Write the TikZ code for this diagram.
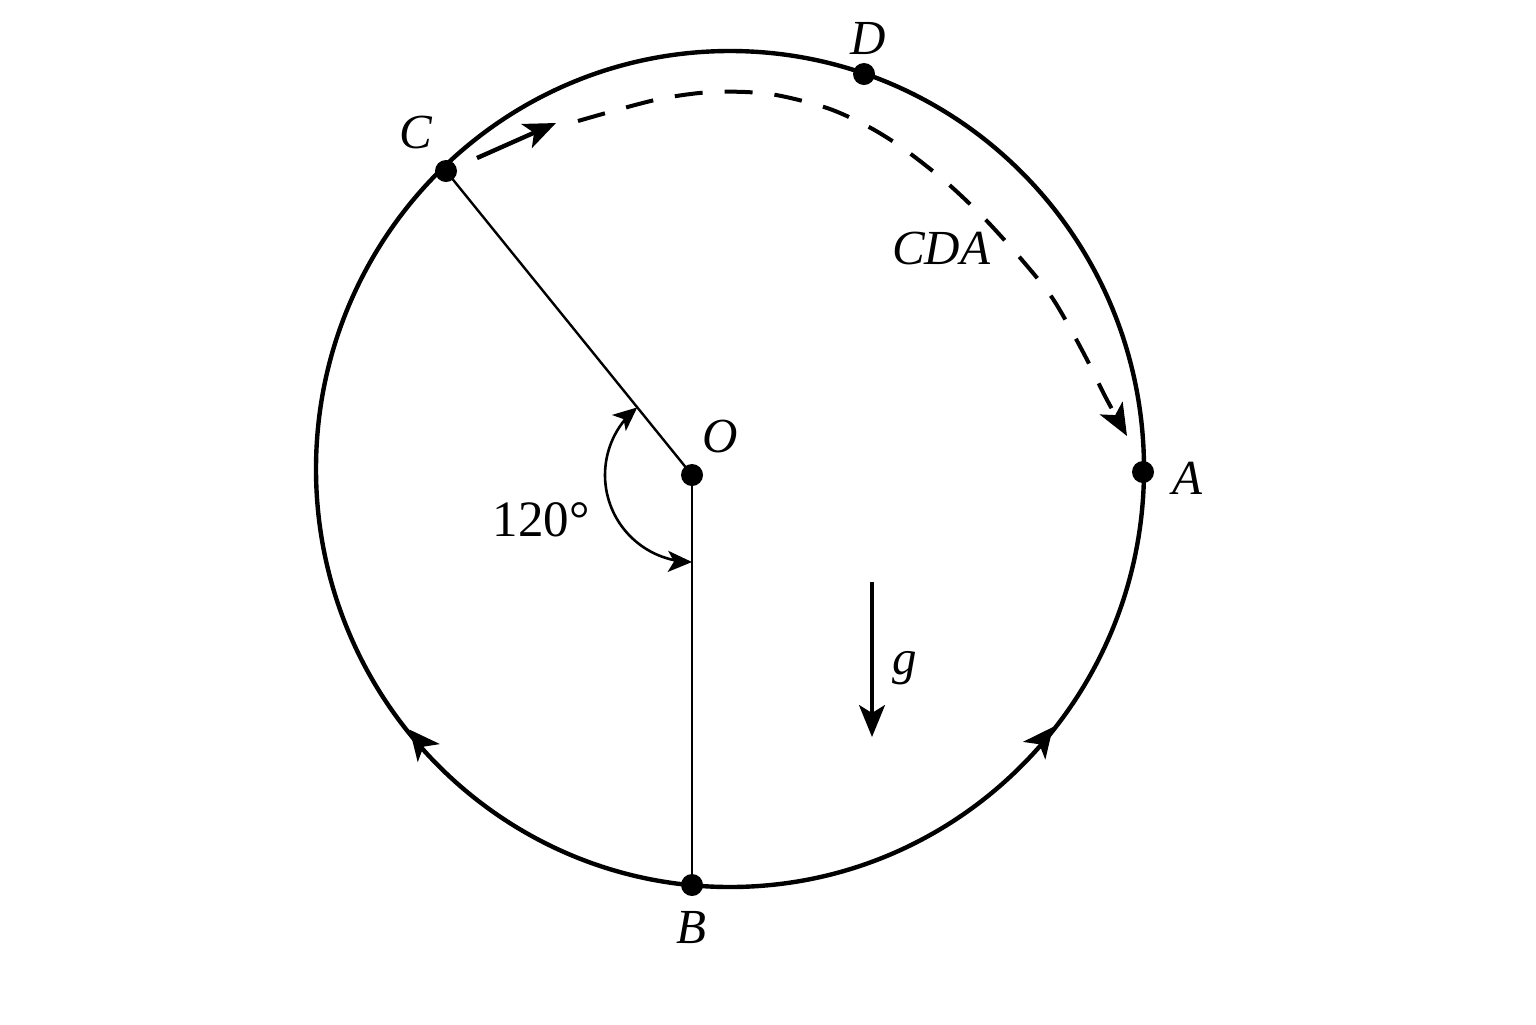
\documentclass[tikz,border=0pt]{standalone}
\usepackage{fontspec}
\setmainfont{Liberation Serif}
\usetikzlibrary{arrows.meta}
\begin{document}
\begin{tikzpicture}[x=0.5pt,y=-0.5pt,
  lbl/.style={font=\fontsize{24.5}{28}\selectfont\itshape, inner sep=0pt},
  numlbl/.style={font=\fontsize{25.5}{28}\selectfont, inner sep=0pt},
  dot/.style={circle, fill=black, minimum size=11pt, inner sep=0pt},
  rim/.style={line width=2.2pt},
  radiusline/.style={line width=1.2pt},
  bigtip/.style={-{Stealth[length=16pt,width=13pt,inset=4pt]}},
  midtip/.style={-{Stealth[length=15pt,width=14pt,inset=4pt]}},
  angtip/.style={{Stealth[length=12pt,width=10.5pt,inset=3pt]}-{Stealth[length=12pt,width=10.5pt,inset=3pt]}},
  dashpath/.style={line width=2pt, dash pattern=on 14pt off 11pt}
]
\useasboundingbox (0,0) rectangle (1536,1024);
\fill[white] (0,0) rectangle (1536,1024);

% circle
\draw[rim] (730,469) ellipse [x radius=207pt, y radius=209pt];

% points
\node[dot] (O) at (692,475) {};
\node[dot] (A) at (1143,472) {};
\node[dot] (B) at (692,885) {};
\node[dot] (C) at (446,171) {};
\node[dot] (D) at (864,74) {};

% radii
\draw[radiusline] (C.center) -- (O.center);
\draw[radiusline] (O.center) -- (B.center);

% direction arrows on the circle
\coordinate (la0) at (416.3,737.8);
\coordinate (la1) at (409.6,729.6);
\draw[line width=2.2pt, midtip] (la0) -- (la1);
\coordinate (ra0) at (1046.8,734.8);
\coordinate (ra1) at (1053.0,727.0);
\draw[line width=2.2pt, midtip] (ra0) -- (ra1);

% start arrow at C
\coordinate (c0) at (477,158);
\coordinate (c1) at (556,123);
\draw[line width=2.2pt, bigtip] (c0) -- (c1);

% dashed path CDA
\draw[dashpath, bigtip] plot[smooth] coordinates {(578,121) (655,100) (712,92) (770,94) (827,108) (869,127) (904,149) (946,182) (984,218) (1022,260) (1053,299) (1083,352) (1106,398) (1127,436)};

% angle arc
\draw[line width=1.3pt, angtip] plot[domain=90:231, samples=50] ({692+87*cos(\x)}, {475+87*sin(\x)});

% gravity
\coordinate (g0) at (872,582);
\coordinate (g1) at (872,737);
\draw[line width=1.6pt, bigtip] (g0) -- (g1);

% labels
\node[lbl] (lD) at (868,38) {D};
\node[lbl] (lC) at (416,132) {C};
\node[lbl] (lCDA) at (941,248) {CDA};
\node[lbl] (lO) at (720,437) {O};
\node[lbl] (lA) at (1187,478) {A};
\node[lbl] (lB) at (691,928) {B};
\node[lbl] (lg) at (905,668) {g};
\node[numlbl] (lang) at (541,520) {120°};
\end{tikzpicture}
\end{document}
